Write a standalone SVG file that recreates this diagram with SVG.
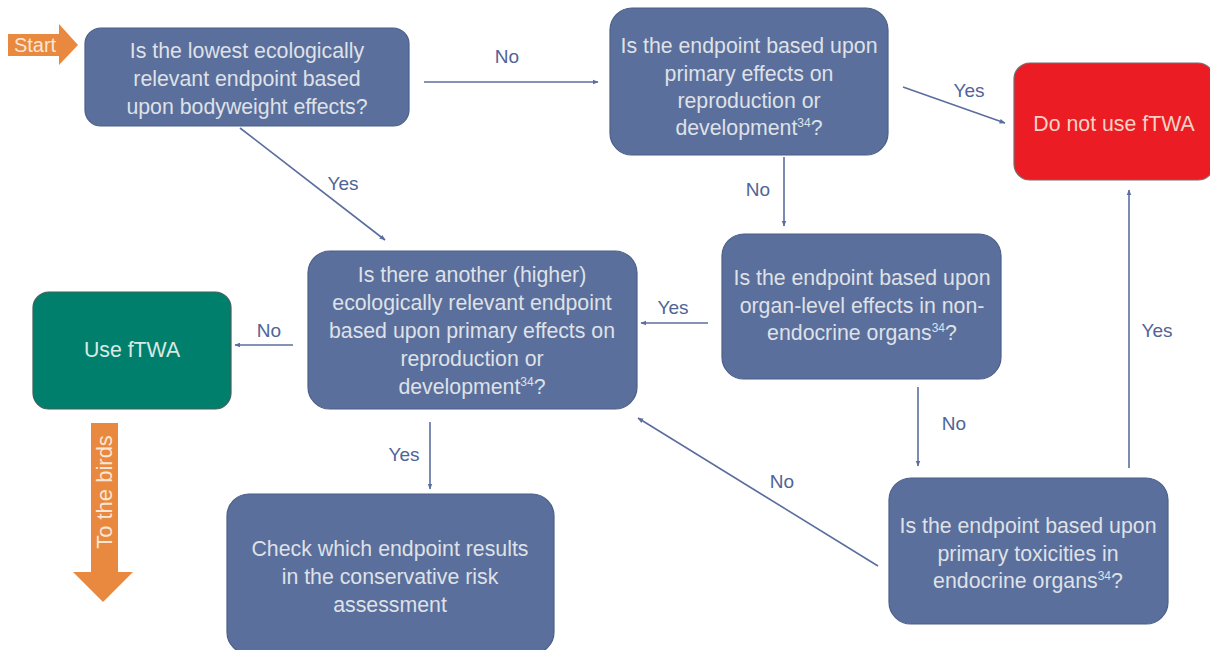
<svg xmlns="http://www.w3.org/2000/svg" width="1210" height="650" viewBox="0 0 1210 650">
  <defs>
    <style>
      .node { fill: #5a6f9b; stroke: #4b5f88; stroke-width: 1.2; }
      .ntext { font-family: "Liberation Sans", Arial, sans-serif; font-size: 21.3px; fill: #dfe1e8; text-anchor: middle; }
      .sup { font-size: 12px; }
      .edge { stroke: #5b6e9e; stroke-width: 1.6; fill: none; marker-end: url(#arr); }
      .lbl { font-family: "Liberation Sans", Arial, sans-serif; font-size: 19px; fill: #4f6497; text-anchor: middle; }
    </style>
    <marker id="arr" viewBox="0 0 10 10" refX="9" refY="5" markerWidth="6" markerHeight="6" orient="auto" markerUnits="userSpaceOnUse">
      <path d="M0,1 L10,5 L0,9 Z" fill="#5b6e9e"/>
    </marker>
  </defs>
  <rect width="1210" height="650" fill="#ffffff"/>

  <!-- start marker -->
  <g id="start">
    <path d="M8,34 H59 V24 L78,45 L59,65 V56 H8 Z" fill="#e8893f"/>
    <text x="35" y="52" font-family="Liberation Sans, Arial, sans-serif" font-size="20" fill="#fbe6d6" text-anchor="middle">Start</text>
  </g>

  <!-- connectors -->
  <g id="connectors">
    <line class="edge" x1="424" y1="82" x2="598" y2="82"/>
    <text class="lbl" x="507" y="63">No</text>
    <line class="edge" x1="240" y1="128" x2="385" y2="240"/>
    <text class="lbl" x="343" y="190">Yes</text>
    <line class="edge" x1="903" y1="87" x2="1005" y2="123"/>
    <text class="lbl" x="969" y="97">Yes</text>
    <line class="edge" x1="784" y1="157" x2="784" y2="226"/>
    <text class="lbl" x="758" y="196">No</text>
    <line class="edge" x1="708" y1="323" x2="641" y2="323"/>
    <text class="lbl" x="673" y="314">Yes</text>
    <line class="edge" x1="293" y1="345" x2="235" y2="345"/>
    <text class="lbl" x="269" y="337">No</text>
    <line class="edge" x1="430" y1="422" x2="430" y2="489"/>
    <text class="lbl" x="404" y="461">Yes</text>
    <line class="edge" x1="918" y1="387" x2="918" y2="466"/>
    <text class="lbl" x="954" y="430">No</text>
    <line class="edge" x1="878" y1="566" x2="638" y2="418"/>
    <text class="lbl" x="782" y="488">No</text>
    <line class="edge" x1="1129" y1="468" x2="1129" y2="190"/>
    <text class="lbl" x="1157" y="337">Yes</text>
  </g>

  <g id="n-bodyweight">
    <rect class="node" x="85" y="28" width="324" height="98" rx="16"/>
    <text class="ntext" x="247" y="58">Is the lowest ecologically</text>
    <text class="ntext" x="247" y="86">relevant endpoint based</text>
    <text class="ntext" x="247" y="114">upon bodyweight effects?</text>
  </g>

  <g id="n-repro">
    <rect class="node" x="610" y="8" width="278" height="147" rx="22"/>
    <text class="ntext" x="749" y="53">Is the endpoint based upon</text>
    <text class="ntext" x="749" y="81">primary effects on</text>
    <text class="ntext" x="749" y="108">reproduction or</text>
    <text class="ntext" x="749" y="135">development<tspan class="sup" dy="-8">34</tspan><tspan dy="8">?</tspan></text>
  </g>

  <g id="n-donotuse">
    <rect x="1014" y="63" width="200" height="117" rx="16" fill="#ec1c24" stroke="#7a6b6b" stroke-width="1.2"/>
    <text x="1114" y="131" font-family="Liberation Sans, Arial, sans-serif" font-size="21.3" fill="#f6d2c4" text-anchor="middle">Do not use fTWA</text>
  </g>

  <g id="n-higher">
    <rect class="node" x="308" y="251" width="329" height="158" rx="22"/>
    <text class="ntext" x="472" y="282">Is there another (higher)</text>
    <text class="ntext" x="472" y="310">ecologically relevant endpoint</text>
    <text class="ntext" x="472" y="338">based upon primary effects on</text>
    <text class="ntext" x="472" y="366">reproduction or</text>
    <text class="ntext" x="472" y="394">development<tspan class="sup" dy="-8">34</tspan><tspan dy="8">?</tspan></text>
  </g>

  <g id="n-use">
    <rect x="33" y="292" width="198" height="117" rx="16" fill="#00806c" stroke="#3f5f5a" stroke-width="1.2"/>
    <text x="132" y="357" font-family="Liberation Sans, Arial, sans-serif" font-size="21.3" fill="#d9e9e4" text-anchor="middle">Use fTWA</text>
  </g>

  <g id="n-organ">
    <rect class="node" x="722" y="234" width="279" height="145" rx="22"/>
    <text class="ntext" x="862" y="285">Is the endpoint based upon</text>
    <text class="ntext" x="862" y="313">organ-level effects in non-</text>
    <text class="ntext" x="862" y="340">endocrine organs<tspan class="sup" dy="-8">34</tspan><tspan dy="8">?</tspan></text>
  </g>

  <g id="n-endocrine">
    <rect class="node" x="889" y="478" width="279" height="146" rx="22"/>
    <text class="ntext" x="1028" y="533">Is the endpoint based upon</text>
    <text class="ntext" x="1028" y="561">primary toxicities in</text>
    <text class="ntext" x="1028" y="588">endocrine organs<tspan class="sup" dy="-8">34</tspan><tspan dy="8">?</tspan></text>
  </g>

  <g id="n-check">
    <rect class="node" x="227" y="494" width="327" height="160" rx="22"/>
    <text class="ntext" x="390" y="556">Check which endpoint results</text>
    <text class="ntext" x="390" y="584">in the conservative risk</text>
    <text class="ntext" x="390" y="612">assessment</text>
  </g>

  <!-- exit marker -->
  <g id="to-birds">
    <path d="M91,423 H118 V572 H133 L103,602 L73,572 H91 Z" fill="#e8893f"/>
    <text x="0" y="0" transform="translate(112,492) rotate(-90)" font-family="Liberation Sans, Arial, sans-serif" font-size="22" fill="#fbe6d6" text-anchor="middle">To the birds</text>
  </g>
</svg>
